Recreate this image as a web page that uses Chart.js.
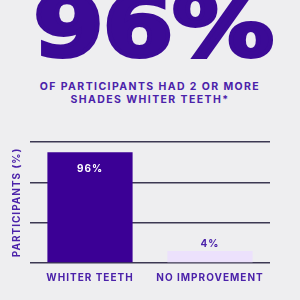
<!DOCTYPE html>
<html lang="en">
<head>
    <meta charset="UTF-8">
    <title>Whiter Teeth</title>
    <script src="https://cdn.jsdelivr.net/npm/chart.js"></script>
    <style>
        body {
            margin: 0;
            padding: 0;
            width: 300px;
            height: 300px;
            background-color: #eeeef0;
            overflow: hidden;
            position: relative;
            font-family: Inter, "Open Sans", sans-serif;
        }
        #big {
            position: absolute;
            left: 3px;
            width: 300px;
            top: -24px;
            text-align: center;
            font-family: "DejaVu Sans", sans-serif;
            font-weight: bold;
            font-size: 86px;
            color: #3b0a96;
            -webkit-text-stroke: 4px #3b0a96;
            letter-spacing: -1px;
            transform: scaleX(1.18);
            line-height: 100px;
        }
        #sub {
            position: absolute;
            left: 0;
            width: 300px;
            top: 81px;
            text-align: center;
            font-weight: 700;
            font-size: 10.5px;
            line-height: 12.5px;
            letter-spacing: 1.4px;
            color: #4b22aa;
        }
        #chart-box {
            position: absolute;
            left: 0;
            top: 0;
            width: 300px;
            height: 300px;
        }
    </style>
</head>
<body>
    <div id="big">96%</div>
    <div id="sub">OF PARTICIPANTS HAD 2 OR MORE<br>SHADES WHITER TEETH*</div>
    <div id="chart-box"><canvas id="bars"></canvas></div>

    <script>
        // data
        var categories = ['WHITER TEETH', 'NO IMPROVEMENT'];
        var participants = [96, 4];
        var valueLabels = ['96%', '4%'];

        var purple = '#4b22aa';

        // canvas text gets a little letter spacing like the original
        var spacing = {
            id: 'spacing',
            beforeUpdate: function (chart) { chart.ctx.letterSpacing = '1px'; },
            beforeDraw: function (chart) { chart.ctx.letterSpacing = '1px'; }
        };

        // value text on / above each bar
        var valueText = {
            id: 'valueText',
            afterDatasetsDraw: function (chart) {
                var ctx = chart.ctx;
                var meta = chart.getDatasetMeta(0);
                ctx.save();
                ctx.letterSpacing = '1px';
                ctx.font = 'bold 10px Inter, sans-serif';
                ctx.textAlign = 'center';
                ctx.textBaseline = 'middle';
                meta.data.forEach(function (bar, i) {
                    if (i == 0) {
                        ctx.fillStyle = '#ffffff';
                        ctx.fillText(valueLabels[i], bar.x, bar.y + 17);
                    } else {
                        ctx.fillStyle = purple;
                        ctx.fillText(valueLabels[i], bar.x, bar.y - 7);
                    }
                });
                ctx.restore();
            }
        };

        var ctx = document.getElementById('bars').getContext('2d');
        var chart = new Chart(ctx, {
            type: 'bar',
            data: {
                labels: categories,
                datasets: [{
                    data: participants,
                    backgroundColor: ['#3b0095', '#ece1fc'],
                    barPercentage: 0.71,
                    categoryPercentage: 1,
                    minBarLength: 12
                }]
            },
            options: {
                responsive: true,
                maintainAspectRatio: false,
                animation: false,
                layout: {
                    padding: { top: 142, left: 11, right: 30, bottom: 7 }
                },
                plugins: {
                    legend: { display: false },
                    tooltip: { enabled: false }
                },
                scales: {
                    x: {
                        grid: { display: false, drawTicks: false },
                        border: { display: false },
                        ticks: {
                            color: purple,
                            font: { family: 'Inter', size: 10, weight: 'bold' },
                            padding: 9,
                            maxRotation: 0
                        }
                    },
                    y: {
                        min: 0,
                        max: 105,
                        ticks: { stepSize: 35, display: false },
                        border: { display: false },
                        grid: { color: '#3c3852', lineWidth: 1.5, drawTicks: false },
                        title: {
                            display: true,
                            text: 'PARTICIPANTS (%)',
                            color: purple,
                            font: { family: 'Inter', size: 10, weight: 'bold' },
                            padding: { top: 0, bottom: 7 }
                        }
                    }
                }
            },
            plugins: [spacing, valueText]
        });
    </script>
</body>
</html>
